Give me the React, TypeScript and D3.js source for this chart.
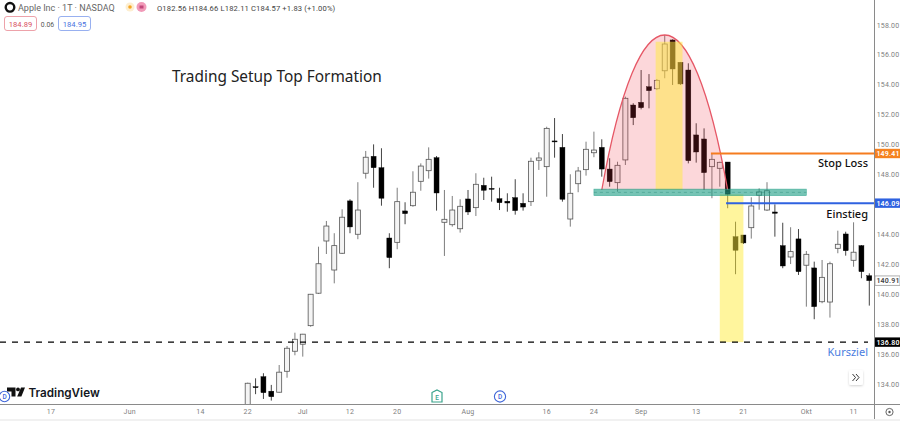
import React from "react";
import * as d3 from "d3";

// Candle values
const opens = [132.6,133.82,134.49,133.52,133.45,134.85,136.19,136.66,137.9,140.07,143.56,141.62,142.74,146.24,144.01,148.09,149.22,148.46,143.76,143.47,145.57,145.92,147.55,148.26,149.13,144.81,144.65,144.38,146.37,145.79,147.28,147.08,146.39,146.22,146.46,146.08,146.19,148.96,148.53,150.25,149.82,145.03,147.39,148.33,149.46,149.82,148.37,147.46,148.98,152.65,152.83,153.87,153.74,154.94,157.0,155.51,154.99,150.65,150.38,148.53,148.42,148.84,143.85,143.96,144.45,146.62,145.63,145.5,143.25,142.49,143.7,141.94,141.76,139.5,139.48,143.07,144.03,142.27,143.25,141.24];
const highs = [134.09,134.38,134.72,133.94,135.27,136.54,137.43,137.35,140.02,143.18,144.9,144.08,145.68,146.35,147.49,149.58,150.02,149.76,144.08,147.12,146.15,148.22,148.75,149.82,149.24,146.97,146.57,146.35,146.97,148.09,147.79,147.86,147.12,146.75,147.69,146.75,149.13,149.49,151.2,151.78,150.71,148.02,148.51,150.2,150.87,150.36,149.09,148.86,153.21,152.77,154.99,154.72,154.39,157.33,157.04,155.53,155.44,151.43,151.09,149.44,148.86,148.84,144.85,143.96,146.48,147.08,147.49,146.01,144.78,144.48,144.36,142.89,142.18,142.29,142.18,144.25,144.18,144.81,143.29,141.4];
const lows = [132.4,133.32,133.0,132.89,133.42,134.42,135.92,135.83,137.83,140.02,142.69,140.73,142.69,144.08,143.68,147.73,147.12,145.92,141.74,143.01,144.68,145.85,146.92,147.73,145.59,142.56,144.52,144.12,145.3,145.23,146.3,146.19,145.63,145.52,145.32,145.59,145.9,148.31,146.52,149.13,146.19,144.52,146.82,147.93,149.16,147.86,147.19,146.86,148.64,151.31,152.36,152.43,153.65,154.44,153.99,153.99,148.75,148.8,146.97,146.42,147.19,145.75,141.34,143.36,143.72,145.65,145.57,143.85,141.74,142.02,141.29,139.17,138.33,139.4,138.44,142.74,142.58,141.84,141.07,139.24];
const closes = [134.05,133.76,133.42,133.15,134.79,136.39,136.99,137.33,140.0,142.04,144.56,143.25,145.15,144.5,145.63,149.16,148.46,146.42,142.45,146.19,145.39,146.82,148.57,149.02,146.77,145.01,145.63,145.88,145.5,147.35,146.95,147.02,146.12,146.1,145.59,145.83,148.89,149.11,151.09,150.2,146.35,146.75,148.24,149.69,149.64,148.37,147.53,148.62,153.1,151.8,152.47,153.61,154.3,156.73,155.06,154.06,148.93,149.51,148.13,149.02,148.82,146.68,142.94,143.43,145.9,146.84,146.92,145.41,141.89,142.85,141.51,142.67,139.17,141.13,142.04,143.34,142.91,142.81,141.51,140.91];

// Axis contents
const priceTicks = [134,136,138,140,142,144,146,148,150,152,154,156,158];
const dateLabels = ["17","Jun","14","22","Jul","12","20","Aug","16","24","Sep","13","21","Okt","11"];
const dateIndex = [-25,-15,-6,0,7,13,19,28,38,44,50,57,63,71,77];

// Annotation levels
const stopLoss = 149.41;
const entry = 146.09;
const target = 136.8;
const lastClose = 140.91;
const zoneTop = 147.03;
const zoneBottom = 146.59;
const domeBase = 146.97;
const domePeak = 157.33;
const bandTop = 156.88;

const W = 900, H = 421;
const FONT = "Roboto, 'Liberation Sans', sans-serif";
const NOTE = "'Noto Sans', 'Open Sans', sans-serif";

const x = d3.scaleLinear().domain([0, 79]).range([247.7, 869.3]);
const y = d3.scaleLinear().domain([134, 158]).range([384, 25]);

function domePath(): string {
  const p = d3.path();
  const ctrlPrice = domeBase + (4 / 3) * (domePeak - domeBase);
  p.moveTo(x(45), y(domeBase));
  p.bezierCurveTo(x(49.7), y(ctrlPrice), x(56.3), y(ctrlPrice), x(61), y(domeBase));
  return p.toString();
}

function Tag({ value, bg, fg, border }: { value: number; bg: string; fg: string; border?: string }) {
  const cy = y(value);
  return (
    <g>
      <rect x={875} y={cy - 4.7} width={25} height={9.4} fill={bg} stroke={border ?? "none"} strokeWidth={border ? 0.8 : 0} />
      <text x={888} y={cy + 2.5} textAnchor="middle" fontSize={7} fontWeight={600} letterSpacing={0.2} fill={fg} fontFamily={FONT}>
        {value.toFixed(2)}
      </text>
    </g>
  );
}

export default function App() {
  const bw = 5;
  const candles = opens.map((o, i) => {
    const c = closes[i];
    const up = c >= o;
    const top = y(Math.max(o, c));
    const bot = y(Math.min(o, c));
    return (
      <g key={i}>
        <line x1={x(i)} x2={x(i)} y1={y(highs[i])} y2={y(lows[i])} stroke={up ? "#7d7d7d" : "#444"} strokeWidth={1} />
        <rect
          x={x(i) - bw / 2}
          y={top}
          width={bw}
          height={Math.max(bot - top, 1)}
          fill={up ? "#f4f4f4" : "#000"}
          stroke={up ? "#555" : "#000"}
          strokeWidth={up ? 0.8 : 0.4}
        />
      </g>
    );
  });

  return (
    <svg width={W} height={H} viewBox={`0 0 ${W} ${H}`} style={{ position: "absolute", left: 0, top: 0, background: "#fff" }}>
      <defs>
        <clipPath id="pane"><rect x={0} y={0} width={874.5} height={404} /></clipPath>
        <filter id="btnShadow" x="-30%" y="-30%" width="160%" height="160%">
          <feDropShadow dx={0} dy={1} stdDeviation={1} floodColor="#000" floodOpacity={0.18} />
        </filter>
      </defs>

      <g clipPath="url(#pane)">
        {candles}

        {/* top-formation dome and the yellow boxes */}
        <path d={domePath()} fill="rgba(242,54,69,0.2)" stroke="#e65766" strokeWidth={1.3} />
        <rect x={x(52) - 1.2} y={y(bandTop)} width={x(55.26) - x(52) + 1.2} height={y(domeBase) - y(bandTop)} fill="rgba(255,235,59,0.5)" />
        <rect x={x(60)} y={y(146.68)} width={x(63) - x(60)} height={y(target) - y(146.68)} fill="rgba(255,235,59,0.5)" />

        {/* entry zone */}
        <rect x={x(44)} y={y(zoneTop)} width={x(71) - x(44)} height={y(zoneBottom) - y(zoneTop)} fill="rgba(34,160,135,0.62)" stroke="rgba(34,160,135,0.7)" strokeWidth={0.6} />
        <line x1={x(44)} x2={x(71)} y1={(y(zoneTop) + y(zoneBottom)) / 2} y2={(y(zoneTop) + y(zoneBottom)) / 2} stroke="rgba(30,130,110,0.6)" strokeWidth={0.6} strokeDasharray="3 3" />

        {/* levels */}
        <line x1={x(59) - 1} x2={875} y1={y(stopLoss)} y2={y(stopLoss)} stroke="#f57c1f" strokeWidth={2} />
        <line x1={x(60.8)} x2={875} y1={y(entry)} y2={y(entry)} stroke="#2f62e0" strokeWidth={2} />
        <line x1={0} x2={868} y1={y(target)} y2={y(target)} stroke="#000" strokeWidth={1.3} strokeDasharray="6 6" />
      </g>

      {/* annotations */}
      <text x={172} y={82} fontFamily={NOTE} fontSize={15.4} fill="#222">Trading Setup Top Formation</text>
      <text x={868} y={167} textAnchor="end" fontFamily={NOTE} fontSize={11} fontWeight={500} fill="#111">Stop Loss</text>
      <text x={868} y={218} textAnchor="end" fontFamily={NOTE} fontSize={11} fontWeight={500} fill="#111">Einstieg</text>
      <text x={868} y={356} textAnchor="end" fontFamily={NOTE} fontSize={11} fill="#4a7de0">Kursziel</text>

      {/* axes */}
      <line x1={874.5} x2={874.5} y1={0} y2={421} stroke="#8a8a8a" strokeWidth={1} />
      <line x1={0} x2={900} y1={404.5} y2={404.5} stroke="#8a8a8a" strokeWidth={1} />
      <rect x={0} y={419} width={900} height={2} fill="#f1f1f1" />
      {priceTicks.map((t) => (
        <text key={t} x={888} y={y(t) + 2.5} textAnchor="middle" fontFamily={FONT} fontSize={7} letterSpacing={0.2} fill="#808080">
          {t.toFixed(2)}
        </text>
      ))}
      {dateLabels.map((d, i) => (
        <text key={d + i} x={x(dateIndex[i])} y={414} textAnchor="middle" fontFamily={FONT} fontSize={7} letterSpacing={0.2} fill="#808080">
          {d}
        </text>
      ))}
      <Tag value={stopLoss} bg="#f58220" fg="#fff" />
      <Tag value={entry} bg="#2f62e0" fg="#fff" />
      <Tag value={lastClose} bg="#fff" fg="#444" border="#9a9a9a" />
      <Tag value={target} bg="#000" fg="#fff" />

      {/* settings gear */}
      <circle cx={889.5} cy={412} r={3.6} fill="none" stroke="#555" strokeWidth={0.9} />
      <circle cx={889.5} cy={412} r={1.2} fill="#555" />

      {/* scroll button */}
      <rect x={849} y={370} width={14} height={15} rx={2} fill="#fff" filter="url(#btnShadow)" />
      <path d="M852.5 374l3 3.5-3 3.5M856 374l3 3.5-3 3.5" fill="none" stroke="#222" strokeWidth={0.9} />

      {/* logo */}
      <path d="M7 387.5h8.5v9h-4v-5H7z" fill="#111" />
      <circle cx={18} cy={389.4} r={1.9} fill="#111" />
      <path d="M21 387.5h4l-3.6 9h-4.2z" fill="#111" />
      <text x={28.5} y={396.5} fontFamily="Inter, Roboto, sans-serif" fontWeight={600} fontSize={11.7} fill="#131722">TradingView</text>

      {/* event markers */}
      <circle cx={4.5} cy={396.5} r={5.2} fill="#fff" stroke="#3f66d8" strokeWidth={1.1} />
      <text x={4.5} y={399} textAnchor="middle" fontFamily={FONT} fontSize={6.5} fontWeight={500} fill="#3f66d8">D</text>
      <path d="M432 392.5l5-2.5 5 2.5V402h-10z" fill="#fff" stroke="#3aa38c" strokeWidth={1.2} />
      <text x={437} y={399.5} textAnchor="middle" fontFamily={FONT} fontSize={6.5} fontWeight={500} fill="#3aa38c">E</text>
      <circle cx={500} cy={396.5} r={5.6} fill="#fff" stroke="#3f66d8" strokeWidth={1.1} />
      <text x={500} y={399} textAnchor="middle" fontFamily={FONT} fontSize={6.5} fontWeight={500} fill="#3f66d8">D</text>

      {/* header */}
      <circle cx={10} cy={7.3} r={4.3} fill="none" stroke="#111" strokeWidth={2.4} />
      <text x={18} y={11} fontFamily={FONT} fontSize={9} fill="#666">Apple Inc · 1T · NASDAQ</text>
      <circle cx={130} cy={7} r={4.5} fill="#fdeed0" />
      <circle cx={130} cy={7} r={1.8} fill="#f5a623" />
      <circle cx={141.5} cy={7} r={5} fill="#f19ab8" />
      <rect x={139.5} y={5.5} width={4} height={3} fill="#c2477a" />
      <text x={157} y={10.5} fontFamily={FONT} fontSize={7.6} letterSpacing={0.15} fill="#444">O182.56  H184.66  L182.11  C184.57  +1.83 (+1.00%)</text>
      <rect x={4.5} y={16.5} width={32} height={14} rx={2.5} fill="#fff" stroke="#e88a94" strokeWidth={0.8} />
      <text x={20.5} y={26.5} textAnchor="middle" fontFamily={FONT} fontSize={7.6} fill="#d8505f">184.89</text>
      <text x={47.5} y={26.5} textAnchor="middle" fontFamily={FONT} fontSize={6.8} fill="#555">0.06</text>
      <rect x={58.5} y={16.5} width={32} height={14} rx={2.5} fill="#fff" stroke="#7d9cec" strokeWidth={0.8} />
      <text x={74.5} y={26.5} textAnchor="middle" fontFamily={FONT} fontSize={7.6} fill="#4a72e0">184.95</text>
    </svg>
  );
}
